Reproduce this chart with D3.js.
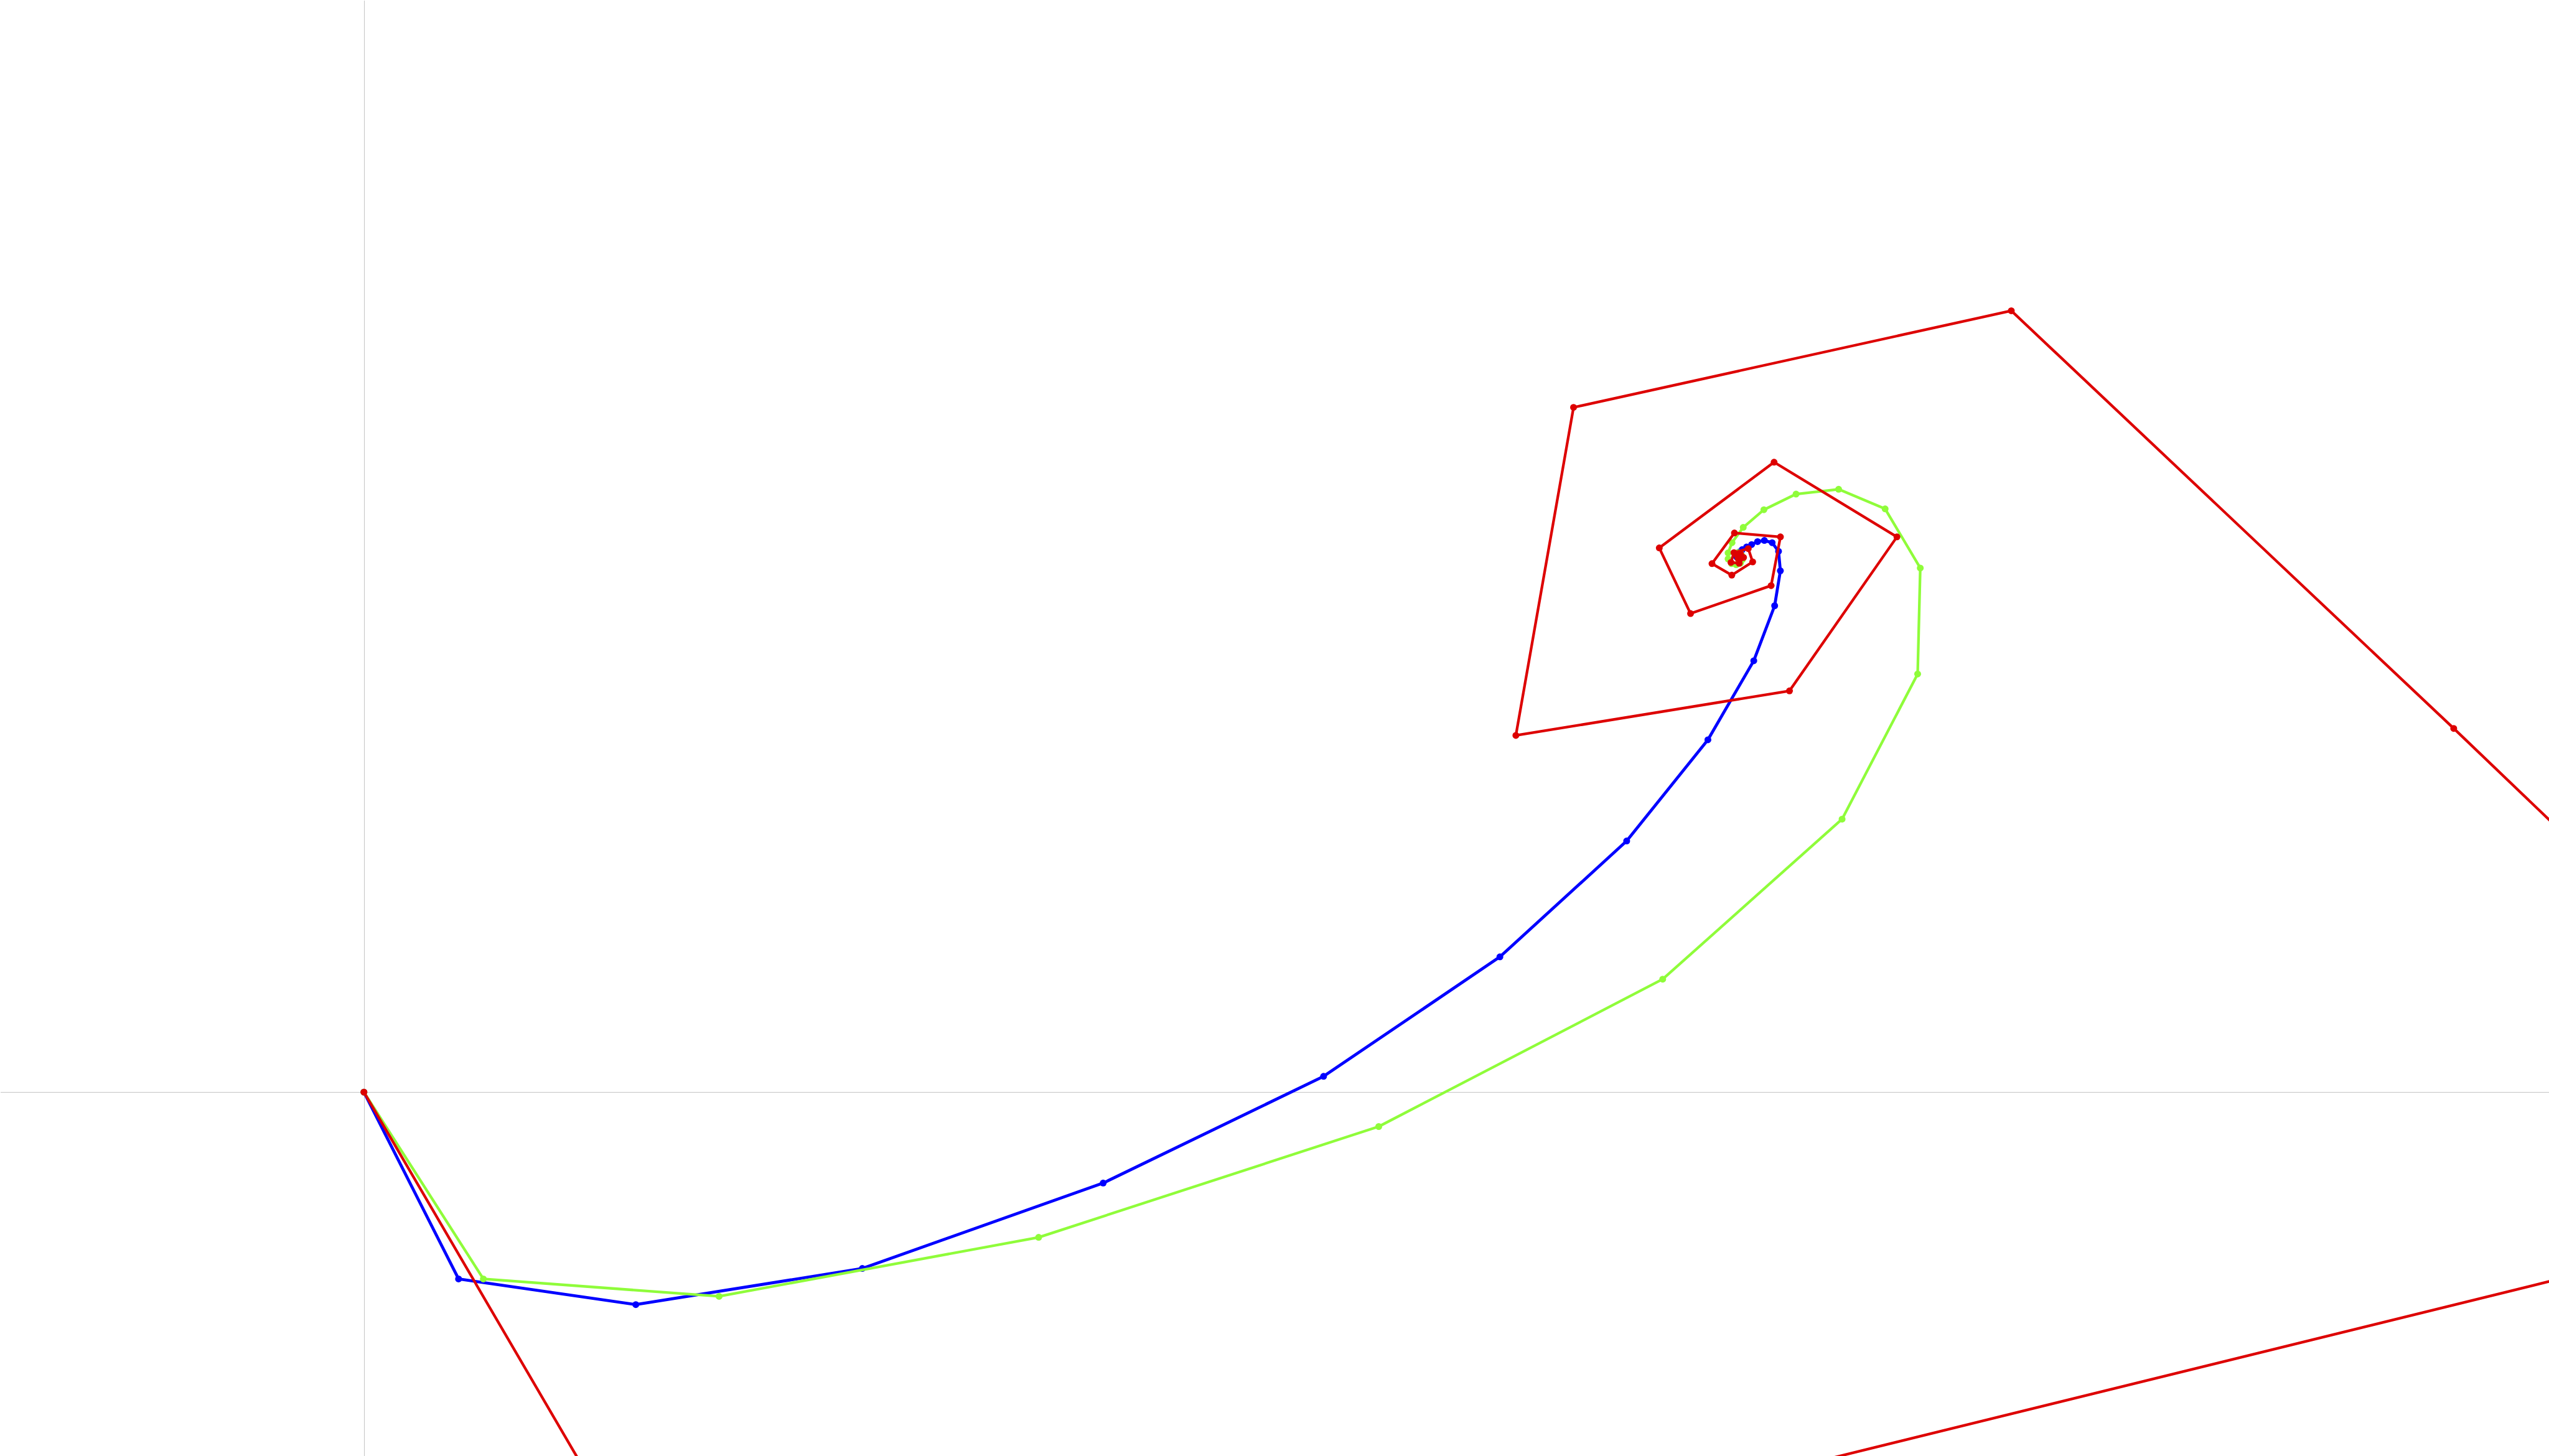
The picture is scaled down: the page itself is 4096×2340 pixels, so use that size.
<!DOCTYPE html>
<html>
<head>
<meta charset="utf-8">
<script src="https://cdn.jsdelivr.net/npm/d3@7/dist/d3.min.js"></script>
<style>
  html, body { margin: 0; padding: 0; background: #ffffff; overflow: hidden; }
  svg { display: block; }
</style>
</head>
<body>
<svg id="chart"></svg>
<script>
// ---- data (x/y in plot units) ----
const blueX = [0, 0.1805, 0.5185, 0.9504, 1.4098, 1.8301, 2.1663, 2.4081, 2.5630, 2.6505, 2.6903, 2.7012, 2.6977, 2.6855, 2.6707, 2.6577, 2.6464, 2.6368, 2.6285, 2.6225, 2.6190, 2.6180, 2.6185];
const blueY = [0, -0.3563, -0.4053, -0.3363, -0.1734, 0.0301, 0.2580, 0.4790, 0.6720, 0.8228, 0.9277, 0.9944, 1.0315, 1.0480, 1.0522, 1.0500, 1.0444, 1.0397, 1.0348, 1.0300, 1.0255, 1.0220, 1.0200];

const greenX = [0, 0.2278, 0.6773, 1.2867, 1.9353, 2.4768, 2.8189, 2.9630, 2.9680, 2.9010, 2.8123, 2.7311, 2.6698, 2.6304, 2.6090, 2.6015, 2.6015, 2.6080, 2.6170, 2.6250, 2.6290, 2.6280, 2.6250, 2.6200];
const greenY = [0, -0.3563, -0.3895, -0.2770, -0.0656, 0.2154, 0.5207, 0.7975, 0.9996, 1.1125, 1.1498, 1.1407, 1.1108, 1.0772, 1.0480, 1.0285, 1.0170, 1.0080, 1.0060, 1.0090, 1.0160, 1.0230, 1.0280, 1.0290];

const redX = [0, 0.956, 2.506, 4.899, 3.9853, 3.1416, 2.3068, 2.1968, 2.7186, 2.9235, 2.6892, 2.4703, 2.5299, 2.6836, 2.7013, 2.6136, 2.5708, 2.6086, 2.6484, 2.6400, 2.6127, 2.6070, 2.6227, 2.6310, 2.6252, 2.6191, 2.6205, 2.6245, 2.6251, 2.6223, 2.6211];
const redY = [0, -1.637, -0.770, -0.181, 0.6937, 1.4903, 1.3060, 0.6803, 0.7653, 1.0590, 1.2015, 1.0380, 0.9128, 0.9661, 1.0590, 1.0665, 1.0080, 0.9861, 1.0113, 1.0367, 1.0290, 1.0103, 1.0087, 1.0197, 1.0266, 1.0231, 1.0178, 1.0182, 1.0216, 1.0226, 1.0206];

const seriesNames = ["blue", "green", "red"];
const seriesColors = ["#0000ff", "#8ffc3a", "#dd0000"];

// ---- layout ----
const W = 4096, H = 2340;
const xDomain = [-0.694, 4.167];
const yDomain = [-0.694, 2.083];

const svg = d3.select("#chart").attr("width", W).attr("height", H);

const x = d3.scaleLinear().domain(xDomain).range([0, W]);
const y = d3.scaleLinear().domain(yDomain).range([H, 0]);

// axes through the origin (lines only)
svg.append("g")
  .attr("transform", `translate(0,${y(0)})`)
  .call(d3.axisBottom(x).ticks(0).tickSizeOuter(0));
svg.append("g")
  .attr("transform", `translate(${x(0)},0)`)
  .call(d3.axisLeft(y).ticks(0).tickSizeOuter(0));
svg.selectAll(".domain").attr("stroke", "#c4c4c4").attr("stroke-width", 1).attr("shape-rendering", "crispEdges");

const series = [
  { name: seriesNames[0], color: seriesColors[0], width: 4.8, pts: d3.zip(blueX, blueY) },
  { name: seriesNames[1], color: seriesColors[1], width: 4.3, pts: d3.zip(greenX, greenY) },
  { name: seriesNames[2], color: seriesColors[2], width: 4.3, pts: d3.zip(redX, redY) }
];

const line = d3.line().x(d => x(d[0])).y(d => y(d[1]));

series.forEach(s => {
  const g = svg.append("g").attr("class", "series-" + s.name);
  g.append("path")
    .datum(s.pts)
    .attr("fill", "none")
    .attr("stroke", s.color)
    .attr("stroke-width", s.width)
    .attr("stroke-linejoin", "round")
    .attr("stroke-linecap", "round")
    .attr("d", line);
  g.selectAll("circle")
    .data(s.pts)
    .join("circle")
    .attr("cx", d => x(d[0]))
    .attr("cy", d => y(d[1]))
    .attr("r", 5.5)
    .attr("fill", s.color);
});
</script>
</body>
</html>
